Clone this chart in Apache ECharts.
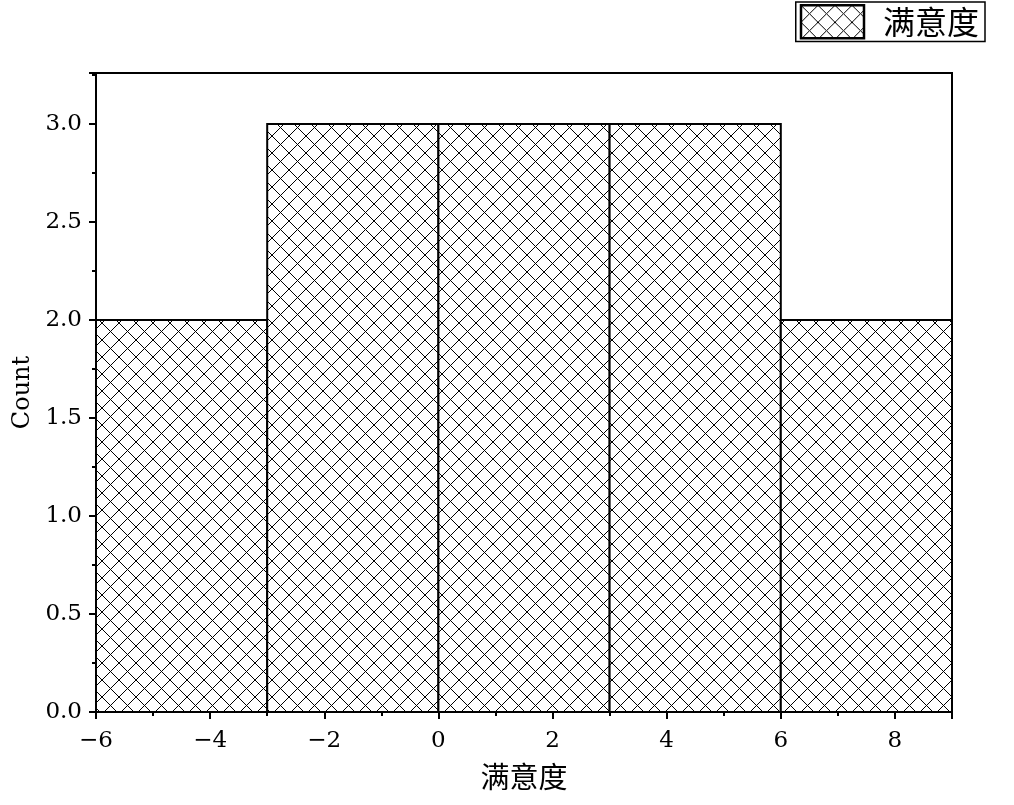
<!DOCTYPE html>
<html><head><meta charset="utf-8">
<script src="https://cdn.jsdelivr.net/npm/echarts@6/dist/echarts.min.js"></script>
<style>html,body{margin:0;padding:0;background:#fff}#c{width:1014px;height:805px}</style>
</head><body><div id="c"></div>
<script>
var binStarts = [-6, -3, 0, 3, 6];
var binEnds = [-3, 0, 3, 6, 9];
var counts = [2, 3, 3, 3, 2];
var seriesName = '满意度';
var xTitle = '满意度';
var yTitle = 'Count';

function makePattern() {
  var s = 17;
  var cv = document.createElement('canvas');
  cv.width = s; cv.height = s;
  var ctx = cv.getContext('2d');
  ctx.fillStyle = '#fff'; ctx.fillRect(0, 0, s, s);
  ctx.strokeStyle = '#000'; ctx.lineWidth = 1;
  ctx.beginPath();
  ctx.moveTo(0, 0); ctx.lineTo(s, s);
  ctx.moveTo(s, 0); ctx.lineTo(0, s);
  ctx.stroke();
  return {image: cv, repeat: 'repeat'};
}
var pat = makePattern();

var data = binStarts.map(function (b, i) { return [b, binEnds[i], counts[i]]; });
var serifFont = '"DejaVu Serif", "Liberation Serif", serif';
var cjkFont = '"Noto Sans CJK SC", sans-serif';
var chart = echarts.init(document.getElementById('c'), null, {renderer: 'canvas'});
chart.setOption({
  animation: false,
  backgroundColor: '#fff',
  grid: {left: 96, right: 62, top: 73, bottom: 93, outerBoundsMode: 'none', containLabel: false,
    show: true, borderColor: '#000', borderWidth: 2, backgroundColor: 'transparent'},
  legend: {
    show: true, right: 29, top: 2, orient: 'horizontal',
    padding: [2, 6, 2, 4], borderColor: '#000', borderWidth: 1.5,
    itemWidth: 63, itemHeight: 33, itemGap: 10,
    textStyle: {fontFamily: cjkFont, fontSize: 32, color: '#000', padding: [0, 0, 0, 14]},
    data: [{name: seriesName, icon: 'rect', itemStyle: {color: pat, borderColor: '#000', borderWidth: 2.5}}]
  },
  xAxis: {
    type: 'value', min: -6, max: 9, interval: 2,
    name: xTitle, nameLocation: 'middle', nameGap: 50,
    nameTextStyle: {fontFamily: cjkFont, fontSize: 29, color: '#000'},
    axisLine: {show: true, onZero: false, lineStyle: {color: '#000', width: 2}},
    axisTick: {show: true, inside: false, length: 7, lineStyle: {color: '#000', width: 2}},
    minorTick: {show: true, splitNumber: 2, length: 4, lineStyle: {color: '#000', width: 2}},
    splitLine: {show: false},
    axisLabel: {showMaxLabel: false, fontFamily: serifFont, fontSize: 23, color: '#000', margin: 18,
      formatter: function (v) { return v < 0 ? '\u2212' + Math.abs(v) : String(v); }}
  },
  yAxis: {
    type: 'value', min: 0, max: 3.26, interval: 0.5,
    name: yTitle, nameLocation: 'middle', nameGap: 60, nameRotate: 90,
    nameTextStyle: {fontFamily: serifFont, fontSize: 24, color: '#000'},
    axisLine: {show: true, onZero: false, lineStyle: {color: '#000', width: 2}},
    axisTick: {show: true, inside: false, length: 7, lineStyle: {color: '#000', width: 2}},
    minorTick: {show: true, splitNumber: 2, length: 4, lineStyle: {color: '#000', width: 2}},
    splitLine: {show: false},
    axisLabel: {showMaxLabel: false, fontFamily: serifFont, fontSize: 23, color: '#000', margin: 14,
      formatter: function (v) { return v.toFixed(1); }}
  },
  series: [{
    type: 'custom', name: seriesName,
    itemStyle: {color: pat, borderColor: '#000', borderWidth: 2},
    encode: {x: [0, 1], y: 2},
    data: data,
    renderItem: function (params, api) {
      var p0 = api.coord([api.value(0), api.value(2)]);
      var p1 = api.coord([api.value(1), 0]);
      return {
        type: 'rect',
        shape: {x: p0[0], y: p0[1], width: p1[0] - p0[0], height: p1[1] - p0[1]},
        style: {fill: pat, stroke: '#000', lineWidth: 2}
      };
    }
  }]
});
</script></body></html>
